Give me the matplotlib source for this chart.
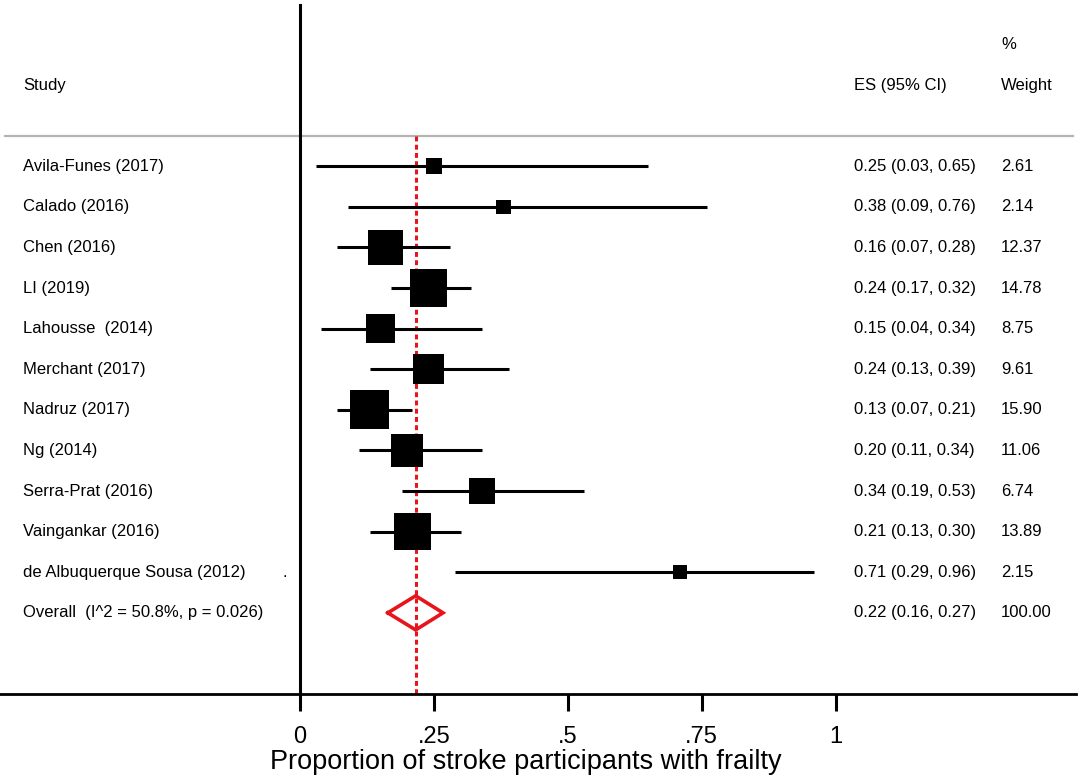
import numpy as np
import matplotlib
matplotlib.use("Agg")
import matplotlib.pyplot as plt

plt.rcParams['font.family'] = ['Liberation Sans', 'DejaVu Sans']

# study data
studies = ["Avila-Funes (2017)", "Calado (2016)", "Chen (2016)", "LI (2019)",
           "Lahousse  (2014)", "Merchant (2017)", "Nadruz (2017)", "Ng (2014)",
           "Serra-Prat (2016)", "Vaingankar (2016)", "de Albuquerque Sousa (2012)"]
es = [0.25, 0.38, 0.16, 0.24, 0.15, 0.24, 0.13, 0.20, 0.34, 0.21, 0.71]
lo = [0.03, 0.09, 0.07, 0.17, 0.04, 0.13, 0.07, 0.11, 0.19, 0.13, 0.29]
hi = [0.65, 0.76, 0.28, 0.32, 0.34, 0.39, 0.21, 0.34, 0.53, 0.30, 0.96]
weight = [2.61, 2.14, 12.37, 14.78, 8.75, 9.61, 15.90, 11.06, 6.74, 13.89, 2.15]

overall_label = "Overall  (I^2 = 50.8%, p = 0.026)"
overall_es, overall_lo, overall_hi = 0.216, 0.164, 0.267
overall_text = "0.22 (0.16, 0.27)"
overall_weight = "100.00"

tick_vals = [0, 0.25, 0.5, 0.75, 1]
tick_labels = ["0", ".25", ".5", ".75", "1"]

fig = plt.figure(figsize=(10.84, 7.81), dpi=100)
ax = fig.add_axes([0, 0, 1, 1])
ax.set_xlim(-0.5602, 1.4640)
ax.set_ylim(15.142, -4.096)

rows = np.arange(len(studies))
n = len(studies)

# CI lines and weight squares
ax.hlines(rows, lo, hi, color="black", lw=2.2, capstyle="butt", zorder=3)
side_pt = 9.78 * np.sqrt(weight) * 0.72
ax.scatter(es, rows, marker="s", s=side_pt ** 2, color="black", linewidths=0, zorder=4)

# overall diamond
dx = [overall_lo, overall_es, overall_hi, overall_es, overall_lo]
dy = [n, n - 0.42, n, n + 0.42, n]
ax.plot(dx, dy, color="#e8141b", lw=2.6, zorder=5, solid_joinstyle="miter")

# pooled estimate line
ax.plot([overall_es, overall_es], [-0.746, 13.0], color="#e8141b", lw=2.2,
        dashes=(1.6, 1.1), zorder=2)

# header separator
ax.plot([-0.551, 1.444], [-0.746, -0.746], color="#b4b4b4", lw=1.6, zorder=1)

# text columns
x_study = -0.5165
x_es = 1.0345
x_w = 1.309
fs = 12
ax.text(x_study, -2, "Study", fontsize=fs, va="center")
ax.text(x_es, -2, "ES (95% CI)", fontsize=fs, va="center")
ax.text(x_w, -3, "%", fontsize=fs, va="center")
ax.text(x_w, -2, "Weight", fontsize=fs, va="center")
for i in range(n):
    ax.text(x_study, i, studies[i], fontsize=fs, va="center")
    ax.text(x_es, i, f"{es[i]:.2f} ({lo[i]:.2f}, {hi[i]:.2f})", fontsize=fs, va="center")
    ax.text(x_w, i, f"{weight[i]:.2f}", fontsize=fs, va="center")
ax.text(-0.032, n - 1, ".", fontsize=fs, va="center")
ax.text(x_study, n, overall_label, fontsize=fs, va="center")
ax.text(x_es, n, overall_text, fontsize=fs, va="center")
ax.text(x_w, n, overall_weight, fontsize=fs, va="center")

# axes lines
for s in ["top", "right"]:
    ax.spines[s].set_visible(False)
ax.spines["left"].set_position(("data", 0))
ax.spines["left"].set_bounds(13.0, -3.973)
ax.spines["left"].set_linewidth(2.2)
ax.spines["bottom"].set_position(("data", 13.0))
ax.spines["bottom"].set_bounds(-0.5602, 1.449)
ax.spines["bottom"].set_linewidth(2.0)
ax.set_yticks([])
ax.set_xticks(tick_vals)
ax.set_xticklabels(tick_labels)
ax.tick_params(axis="x", direction="out", length=12, width=2.2, labelsize=17, pad=11)
ax.set_xlabel("Proportion of stroke participants with frailty", fontsize=19.5)
ax.xaxis.set_label_coords(0.4848, 0.041)

fig.savefig("out.png", dpi=100)
plt.close(fig)
